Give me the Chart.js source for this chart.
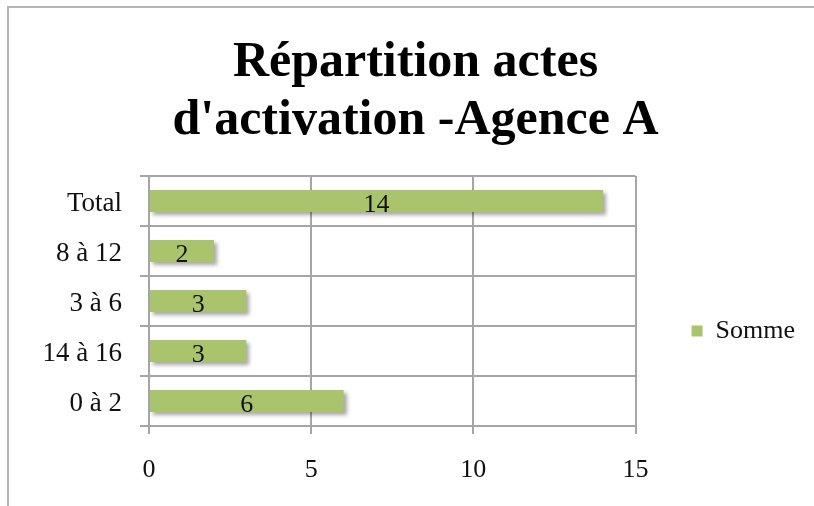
<!DOCTYPE html>
<html>
<head>
<meta charset="utf-8">
<script src="https://cdn.jsdelivr.net/npm/chart.js@4/dist/chart.umd.min.js"></script>
<style>
    html, body { margin: 0; padding: 0; background: #fff; }
    #wrap { position: relative; width: 814px; height: 506px; overflow: hidden; }
    #frame { position: absolute; left: 7px; top: 6px; width: 900px; height: 600px; border: 2px solid #b3b3b3; }
    #chart { position: absolute; left: 0; top: 0; }
</style>
</head>
<body>
<div id="wrap">
    <div id="frame"></div>
    <canvas id="chart" width="814" height="506"></canvas>
</div>
<script>
    // Données
    const categories = ['Total', '8 à 12', '3 à 6', '14 à 16', '0 à 2'];
    const valeurs = [14, 2, 3, 3, 6];
    const nomSerie = 'Somme';
    const titre = ['Répartition actes', "d'activation -Agence A"];
    const xMin = 0, xMax = 15, xPas = 5;

    const vert = '#a9c46c';
    const gris = '#a6a6a6';
    const police = "'Liberation Serif', 'DejaVu Serif', serif";

    // Ombre portée sous les barres
    const ombrePlugin = {
        id: 'ombre',
        beforeDatasetDraw(chart) {
            const ctx = chart.ctx;
            ctx.save();
            ctx.shadowColor = 'rgba(0, 0, 0, 0.35)';
            ctx.shadowBlur = 4;
            ctx.shadowOffsetX = 3;
            ctx.shadowOffsetY = 3;
        },
        afterDatasetDraw(chart) {
            chart.ctx.restore();
        }
    };

    // Étiquettes de valeurs au centre des barres
    const etiquettesPlugin = {
        id: 'etiquettes',
        afterDatasetsDraw(chart) {
            const ctx = chart.ctx;
            const meta = chart.getDatasetMeta(0);
            ctx.save();
            ctx.font = '26px ' + police;
            ctx.fillStyle = '#111';
            ctx.textAlign = 'center';
            ctx.textBaseline = 'middle';
            meta.data.forEach((bar, i) => {
                const cx = (bar.x + bar.base) / 2;
                ctx.fillText(String(chart.data.datasets[0].data[i]), cx, bar.y + 4);
            });
            ctx.restore();
        }
    };

    new Chart(document.getElementById('chart'), {
        type: 'bar',
        data: {
            labels: categories,
            datasets: [{
                label: nomSerie,
                data: valeurs,
                backgroundColor: vert,
                borderWidth: 0,
                categoryPercentage: 1,
                barPercentage: 0.44
            }]
        },
        options: {
            indexAxis: 'y',
            responsive: false,
            animation: false,
            events: [],
            layout: { padding: { left: 26, right: 9, top: 0, bottom: 0 } },
            scales: {
                x: {
                    min: xMin,
                    max: xMax,
                    ticks: { stepSize: xPas, color: '#111', font: { family: police, size: 26 }, padding: 21 },
                    grid: { color: gris, lineWidth: 2, tickLength: 8 },
                    border: { color: gris, width: 2 },
                    afterFit(scale) { scale.height = 80; }
                },
                y: {
                    ticks: { color: '#111', font: { family: police, size: 27 }, padding: 18, labelOffset: 3 },
                    grid: { color: gris, lineWidth: 2, tickLength: 9, offset: true },
                    border: { color: gris, width: 2 },
                    afterFit(scale) { scale.width = 123; }
                }
            },
            plugins: {
                title: {
                    display: true,
                    text: titre,
                    color: '#000',
                    font: { family: police, size: 50, weight: 'bold', lineHeight: 1.16 },
                    padding: { top: 34, bottom: 26 }
                },
                legend: {
                    position: 'right',
                    fullSize: false,
                    title: { display: true, text: '', font: { size: 10, lineHeight: 1 }, padding: { top: 50, bottom: 0 } },
                    labels: {
                        boxWidth: 11,
                        boxHeight: 11,
                        padding: 56,
                        color: '#111',
                        font: { family: police, size: 26 }
                    }
                },
                tooltip: { enabled: false }
            }
        },
        plugins: [ombrePlugin, etiquettesPlugin]
    });
</script>
</body>
</html>
